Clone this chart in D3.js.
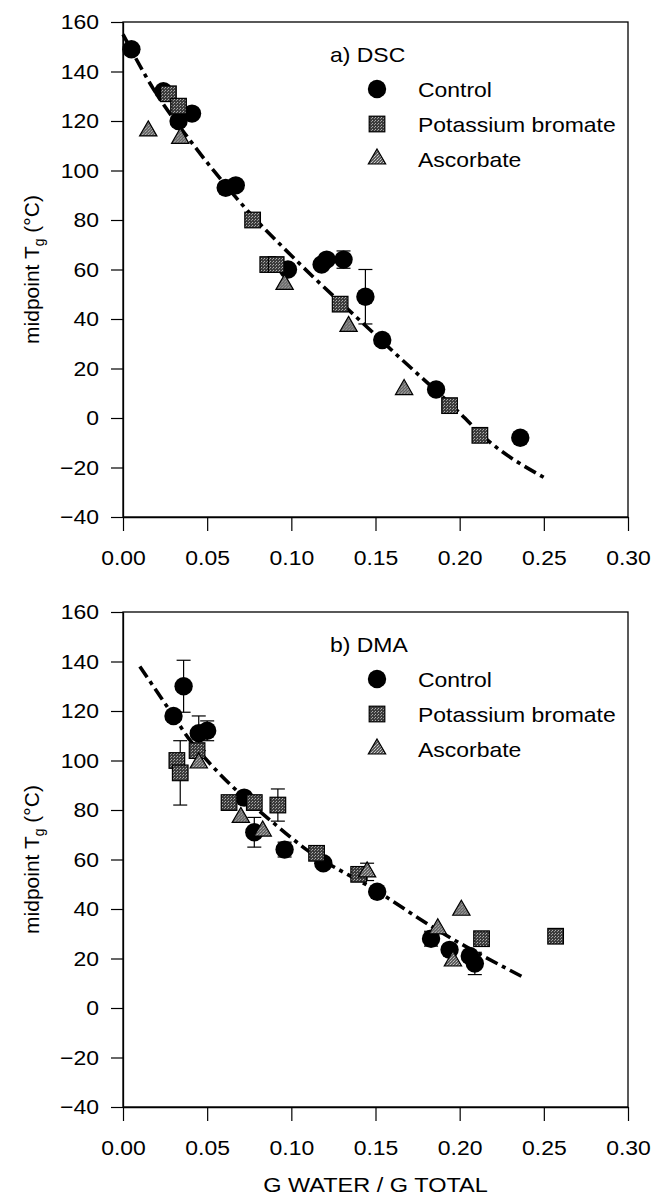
<!DOCTYPE html>
<html>
<head>
<meta charset="utf-8">
<script src="https://cdn.jsdelivr.net/npm/d3@7"></script>
<style>
  body { margin: 0; background: #fff; }
  svg text { font-family: "Liberation Sans", Arial, sans-serif; fill: #000; }
</style>
</head>
<body>
<div id="chart"></div>
<script>
// tick labels
const xTicks = [0, 0.05, 0.10, 0.15, 0.20, 0.25, 0.30];
const yTicks = [-40, -20, 0, 20, 40, 60, 80, 100, 120, 140, 160];
const seriesNames = ["Control", "Potassium bromate", "Ascorbate"];

// a) DSC : [g water / g total, midpoint Tg, error]
const dscControl = [
   [0.005, 149], [0.024, 132], [0.033, 120], [0.041, 123], [0.061, 93], [0.067, 94],
   [0.098, 60], [0.118, 62], [0.121, 64], [0.131, 64, 3.5], [0.144, 49, 11],
   [0.154, 31.5], [0.186, 11.5], [0.236, -8]
];
const dscBromate = [
   [0.027, 131], [0.033, 126], [0.077, 80], [0.086, 62], [0.091, 62],
   [0.129, 46], [0.194, 5], [0.212, -7]
];
const dscAscorbate = [
   [0.015, 116], [0.034, 113], [0.096, 54], [0.134, 37], [0.167, 11.5]
];
const dscFit = [
   [0.000, 155], [0.018, 133], [0.040, 112], [0.055, 99], [0.075, 83], [0.095, 69],
   [0.113, 57], [0.143, 38], [0.165, 24], [0.186, 11], [0.200, 2], [0.215, -8], [0.250, -24]
];

// b) DMA
const dmaControl = [
   [0.030, 118], [0.036, 130, 10.5], [0.045, 111, 7], [0.050, 112, 4], [0.072, 85],
   [0.078, 71, 6], [0.096, 64, 3], [0.119, 58.5], [0.151, 47], [0.183, 28, 3],
   [0.194, 23.5], [0.206, 21], [0.209, 18, 4.5]
];
const dmaBromate = [
   [0.032, 100], [0.034, 95, 13], [0.044, 104], [0.063, 83], [0.078, 83],
   [0.092, 82, 6.5], [0.115, 62.5], [0.140, 54], [0.213, 28], [0.257, 29]
];
const dmaAscorbate = [
   [0.045, 99], [0.070, 77], [0.083, 71.5], [0.145, 55, 3.5], [0.187, 32],
   [0.196, 19], [0.201, 39.5]
];
const dmaFit = [
   [0.010, 138], [0.030, 118], [0.040, 108], [0.050, 100], [0.072, 85], [0.089, 75],
   [0.109, 64], [0.149, 48], [0.188, 31], [0.239, 12]
];

var width = 652, height = 1196;
var left = 123, right = 628, plotH = 495;
var stretchX = 1.12; // the scanned figure is a bit wider than tall

var svg = d3.select("#chart")
   .append("svg")
   .attr("width", width)
   .attr("height", height);

// widen text horizontally, keeping its anchor in place
function stretch(sel) {
   sel.each(function () {
      var t = d3.select(this);
      var x = +t.attr("x") || 0;
      t.attr("x", x / stretchX).attr("transform", "scale(" + stretchX + ",1)");
   });
}

// stippled fills for squares and triangles
var defs = svg.append("defs");
var sq = defs.append("pattern").attr("id", "sqFill")
   .attr("width", 3).attr("height", 3).attr("patternUnits", "userSpaceOnUse");
sq.append("rect").attr("width", 3).attr("height", 3).attr("fill", "#3c3c3c");
sq.append("rect").attr("x", 0).attr("y", 0).attr("width", 1).attr("height", 1).attr("fill", "#b0b0b0");
sq.append("rect").attr("x", 2).attr("y", 1).attr("width", 1).attr("height", 1).attr("fill", "#909090");
var tri = defs.append("pattern").attr("id", "triFill")
   .attr("width", 3).attr("height", 3).attr("patternUnits", "userSpaceOnUse");
tri.append("rect").attr("width", 3).attr("height", 3).attr("fill", "#5a5a5a");
tri.append("rect").attr("x", 0).attr("y", 0).attr("width", 1).attr("height", 1).attr("fill", "#d0d0d0");
tri.append("rect").attr("x", 1).attr("y", 2).attr("width", 1).attr("height", 1).attr("fill", "#c0c0c0");
tri.append("rect").attr("x", 2).attr("y", 1).attr("width", 1).attr("height", 1).attr("fill", "#a0a0a0");

var xScale = d3.scaleLinear().domain([0, 0.30]).range([left, right]);

function drawMarker(g, kind, cx, cy) {
   if (kind === 0) {
      g.append("circle").attr("cx", cx).attr("cy", cy).attr("r", 9.2).attr("fill", "#000");
   } else if (kind === 1) {
      g.append("rect").attr("x", cx - 7.8).attr("y", cy - 7.8)
         .attr("width", 15.6).attr("height", 15.6)
         .attr("fill", "url(#sqFill)").attr("stroke", "#000").attr("stroke-width", 1.2);
   } else {
      g.append("path")
         .attr("d", d3.symbol().type(d3.symbolTriangle).size(130)())
         .attr("transform", "translate(" + cx + "," + cy + ")")
         .attr("fill", "url(#triFill)").attr("stroke", "#000").attr("stroke-width", 1.2);
   }
}

function drawPanel(top, label, series, fit) {
   var yScale = d3.scaleLinear().domain([-40, 160]).range([top + plotH, top]);
   var g = svg.append("g");

   // frame
   g.append("rect")
      .attr("x", left).attr("y", top)
      .attr("width", right - left).attr("height", plotH)
      .attr("fill", "none").attr("stroke", "#000").attr("stroke-width", 1.3);

   // Y axis
   var yAxis = g.append("g")
      .attr("transform", "translate(" + left + ",0)")
      .call(d3.axisLeft(yScale).tickValues(yTicks).tickSize(12).tickSizeOuter(0).tickPadding(12));
   yAxis.selectAll("text").style("font-size", "20.5px").call(stretch);

   // X axis
   var xAxis = g.append("g")
      .attr("transform", "translate(0," + (top + plotH) + ")")
      .call(d3.axisBottom(xScale).tickValues(xTicks).tickFormat(d3.format(".2f"))
         .tickSize(14).tickSizeOuter(0).tickPadding(19));
   xAxis.selectAll("text").style("font-size", "20.5px").call(stretch);
   g.selectAll(".domain").attr("stroke", "#000").attr("stroke-width", 1.3);
   g.selectAll(".tick line").attr("stroke", "#000").attr("stroke-width", 1.2);

   // Y title
   var yt = g.append("text")
      .attr("transform", "translate(39," + (top + plotH / 2) + ") rotate(-90)")
      .attr("text-anchor", "middle")
      .style("font-size", "21px");
   yt.append("tspan").text("midpoint T");
   yt.append("tspan").attr("dy", 5).style("font-size", "14px").text("g");
   yt.append("tspan").attr("dy", -5).text(" (\u00B0C)");

   // fitted line
   var line = d3.line()
      .x(function (d) { return xScale(d[0]); })
      .y(function (d) { return yScale(d[1]); })
      .curve(d3.curveMonotoneX);
   g.append("path")
      .datum(fit)
      .attr("fill", "none")
      .attr("stroke", "#000")
      .attr("stroke-width", 3.6)
      .attr("stroke-dasharray", "13,5,4,5")
      .attr("d", line);

   // error bars
   series.forEach(function (data) {
      data.filter(function (d) { return d.length > 2; }).forEach(function (d) {
         var cx = xScale(d[0]);
         var y1 = yScale(d[1] + d[2]), y2 = yScale(d[1] - d[2]);
         g.append("line").attr("x1", cx).attr("x2", cx).attr("y1", y1).attr("y2", y2)
            .attr("stroke", "#000").attr("stroke-width", 1.2);
         [y1, y2].forEach(function (yy) {
            g.append("line").attr("x1", cx - 7).attr("x2", cx + 7).attr("y1", yy).attr("y2", yy)
               .attr("stroke", "#000").attr("stroke-width", 1.2);
         });
      });
   });

   // markers
   series.forEach(function (data, k) {
      data.forEach(function (d) {
         drawMarker(g, k, xScale(d[0]), yScale(d[1]));
      });
   });

   // panel label and legend
   g.append("text").attr("x", 330).attr("y", top + 40)
      .style("font-size", "20.5px").text(label).call(stretch);
   seriesNames.forEach(function (name, k) {
      var base = top + 75 + k * 35;
      drawMarker(g, k, 377, base - 8);
      g.append("text").attr("x", 418).attr("y", base)
         .style("font-size", "20.5px").text(name).call(stretch);
   });
}

drawPanel(22, "a) DSC", [dscControl, dscBromate, dscAscorbate], dscFit);
drawPanel(612, "b) DMA", [dmaControl, dmaBromate, dmaAscorbate], dmaFit);

// shared X title
svg.append("text")
   .attr("x", (left + right) / 2).attr("y", 1192)
   .attr("text-anchor", "middle")
   .style("font-size", "21px")
   .text("G WATER / G TOTAL").call(stretch);
</script>
</body>
</html>
